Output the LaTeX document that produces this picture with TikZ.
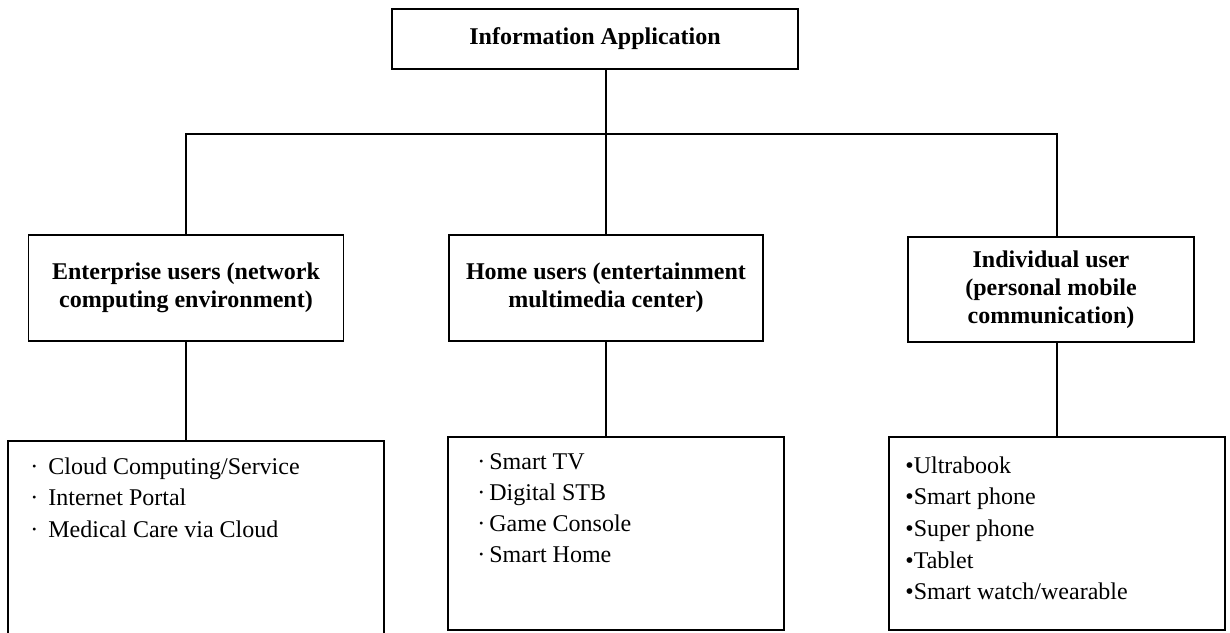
\documentclass[tikz,border=0pt]{standalone}
\usepackage{fontspec}
\setmainfont{Liberation Serif}
\begin{document}
\begin{tikzpicture}[x=0.5pt,y=-0.5pt,
  box/.style={draw=black,line width=0.8pt,fill=white,inner sep=0pt,align=center,font=\fontsize{12pt}{14pt}\selectfont\bfseries},
  listbox/.style={draw=black,line width=0.8pt,inner sep=0pt},
  item/.style={anchor=base west,inner sep=0pt,font=\fontsize{12pt}{15.75pt}\selectfont},
  link/.style={line width=0.8pt}]
\useasboundingbox (0,0) rectangle (1230,632);
% top
\node[box,minimum width=203pt,minimum height=30pt] (top) at (595,39) {Information Application};
% middle row
\node[box,minimum width=157.5pt,minimum height=53pt] (ent) at (186,288) {Enterprise users (network\\computing environment)};
\node[box,minimum width=157pt,minimum height=53pt] (home) at (606,288) {Home users (entertainment\\multimedia center)};
\node[box,minimum width=143pt,minimum height=52.5pt] (indiv) at (1051,289.5) {Individual user\\(personal mobile\\communication)};
% bottom row
\node[listbox,minimum width=188pt,minimum height=97pt] (entlist) at (196,538) {};
\node[listbox,minimum width=168pt,minimum height=96.5pt] (homelist) at (616,533.5) {};
\node[listbox,minimum width=168pt,minimum height=96.5pt] (indivlist) at (1057,533.5) {};
% list texts
\foreach \t [count=\i] in {Cloud Computing/Service,Internet Portal,Medical Care via Cloud}
  \node[item] (ea\i) at (30,{474+31.5*(\i-1)}) {·\hspace{5pt}\t};
\foreach \t [count=\i] in {Smart TV,Digital STB,Game Console,Smart Home}
  \node[item] (ha\i) at (477,{469+31.3*(\i-1)}) {·\hspace{2pt}\t};
\foreach \t [count=\i] in {Ultrabook,Smart phone,Super phone,Tablet,Smart watch/wearable}
  \node[item] (ia\i) at (905,{473+31.7*(\i-1)}) {•\t};
% connectors
\coordinate (hub) at (606,134);
\coordinate (hl) at (ent.north |- hub);
\coordinate (hr) at (1057,134);
\draw[link] (top.south -| hub) -- (hub);
\draw[link] (ent.north) -- (hl) -- (hr) -- (hr |- indiv.north);
\draw[link] (home.north) -- (home.north |- hub);
\draw[link] (ent.south) -- (ent.south |- entlist.north);
\draw[link] (home.south) -- (home.south |- homelist.north);
\draw[link] (indivlist.north) -- (indivlist.north |- indiv.south);
\end{tikzpicture}
\end{document}
